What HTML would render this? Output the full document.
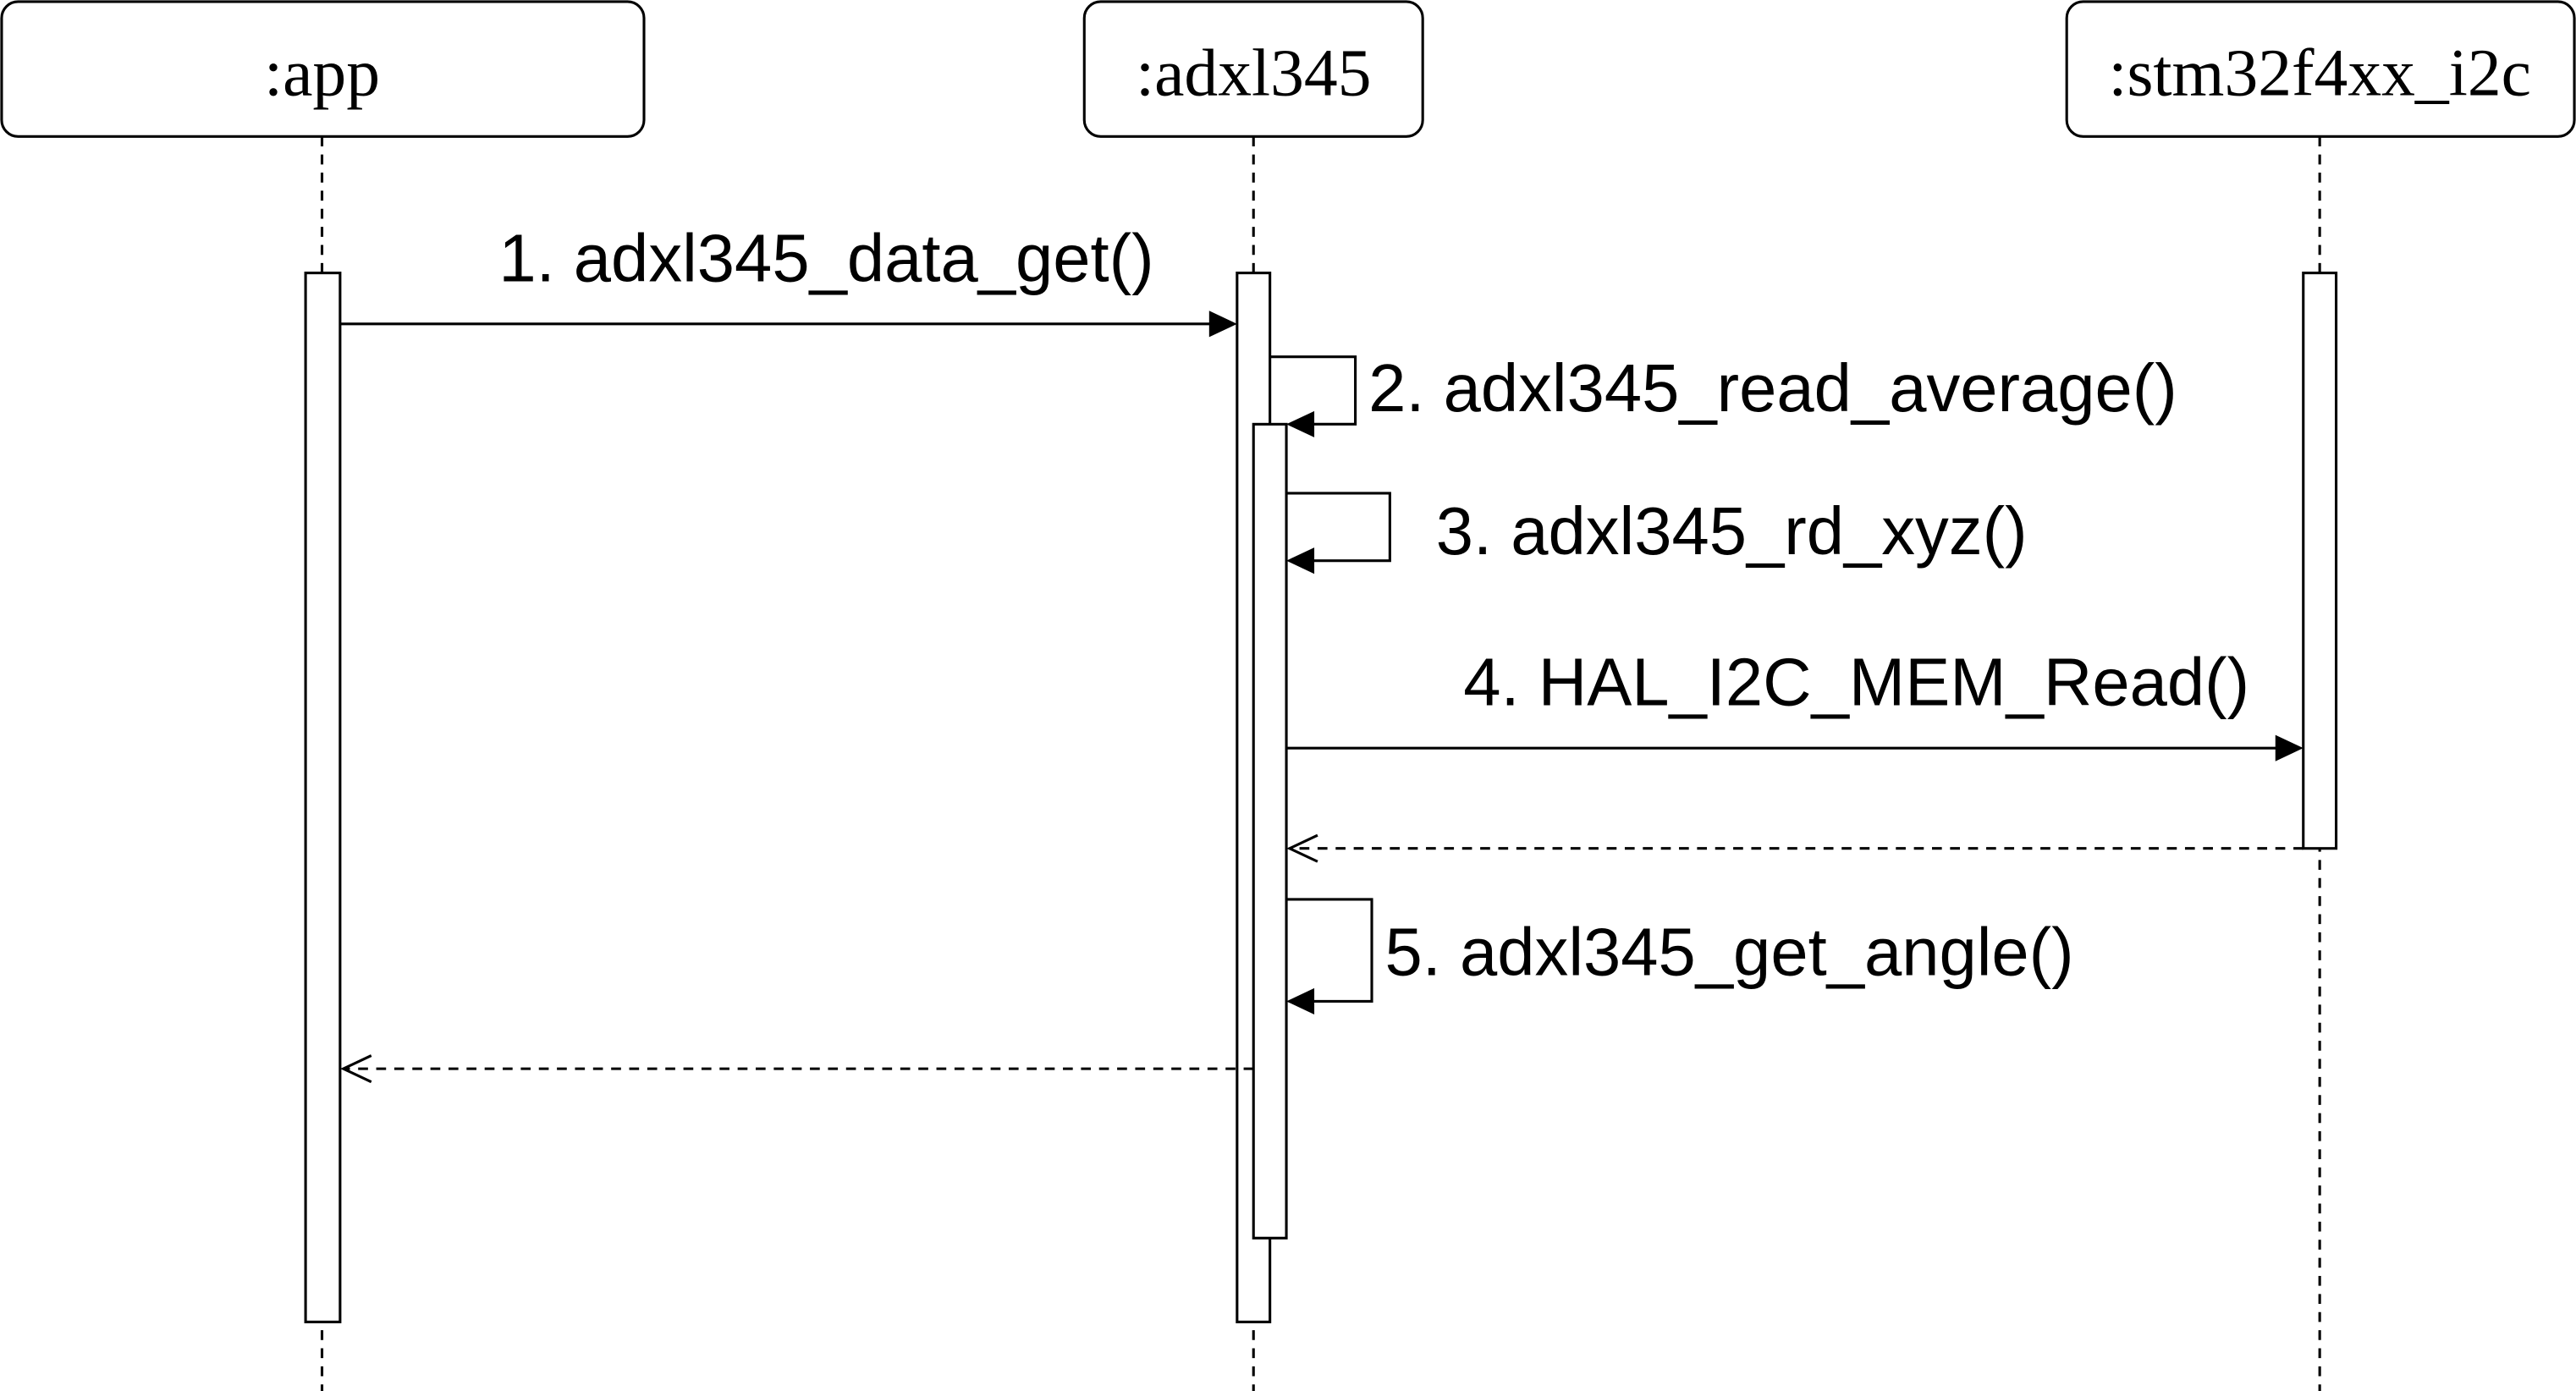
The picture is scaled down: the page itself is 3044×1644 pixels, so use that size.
<!DOCTYPE html>
<html><head><meta charset="utf-8"><style>
html,body{margin:0;padding:0;background:#fff;}
svg{display:block;}
.s{font-family:"Liberation Sans",sans-serif;font-size:41px;}
.r{font-family:"Liberation Serif",serif;font-size:41px;}
</style></head><body>
<svg width="3044" height="1644" viewBox="0 0 1568 846" preserveAspectRatio="none" xmlns="http://www.w3.org/2000/svg">
<g fill="none" stroke="#000" stroke-width="1.6">
<line x1="196" y1="83" x2="196" y2="846" stroke-dasharray="6,5"/>
<line x1="763" y1="83" x2="763" y2="846" stroke-dasharray="6,5"/>
<line x1="1412" y1="83" x2="1412" y2="846" stroke-dasharray="6,5"/>
<rect x="1" y="1" width="391" height="82" rx="10" fill="#fff"/>
<rect x="660" y="1" width="206" height="82" rx="10" fill="#fff"/>
<rect x="1258" y="1" width="309" height="82" rx="10" fill="#fff"/>
<rect x="186" y="166" width="21" height="638" fill="#fff"/>
<rect x="753" y="166" width="20" height="638" fill="#fff"/>
<rect x="1402" y="166" width="20" height="350" fill="#fff"/>
<rect x="763" y="258" width="20" height="495" fill="#fff"/>
<line x1="207" y1="197" x2="738" y2="197"/>
<polyline points="773,217 825,217 825,258 798,258"/>
<polyline points="783,300 846,300 846,341 798,341"/>
<line x1="783" y1="455" x2="1387" y2="455"/>
<line x1="1402" y1="516" x2="785" y2="516" stroke-dasharray="6,5"/>
<polyline points="802,508 785,516 802,524"/>
<polyline points="783,547 835,547 835,609 798,609"/>
<line x1="763" y1="650" x2="209" y2="650" stroke-dasharray="6,5"/>
<polyline points="226,642 209,650 226,658"/>
</g>
<g fill="#000">
<polygon points="753,197 736,189 736,205"/>
<polygon points="783,258 800,250 800,266"/>
<polygon points="783,341 800,333 800,349"/>
<polygon points="1402,455 1385,447 1385,463"/>
<polygon points="783,609 800,601 800,617"/>
</g>
<g fill="#000">
<text class="r" x="196" y="58" text-anchor="middle">:app</text>
<text class="r" x="763" y="58" text-anchor="middle">:adxl345</text>
<text class="r" x="1412" y="58" text-anchor="middle">:stm32f4xx_i2c</text>
<text class="s" x="503" y="171" text-anchor="middle">1. adxl345_data_get()</text>
<text class="s" x="833" y="250">2. adxl345_read_average()</text>
<text class="s" x="874" y="337">3. adxl345_rd_xyz()</text>
<text class="s" x="1130" y="429" text-anchor="middle">4. HAL_I2C_MEM_Read()</text>
<text class="s" x="843" y="593">5. adxl345_get_angle()</text>
</g>
</svg>
</body></html>
